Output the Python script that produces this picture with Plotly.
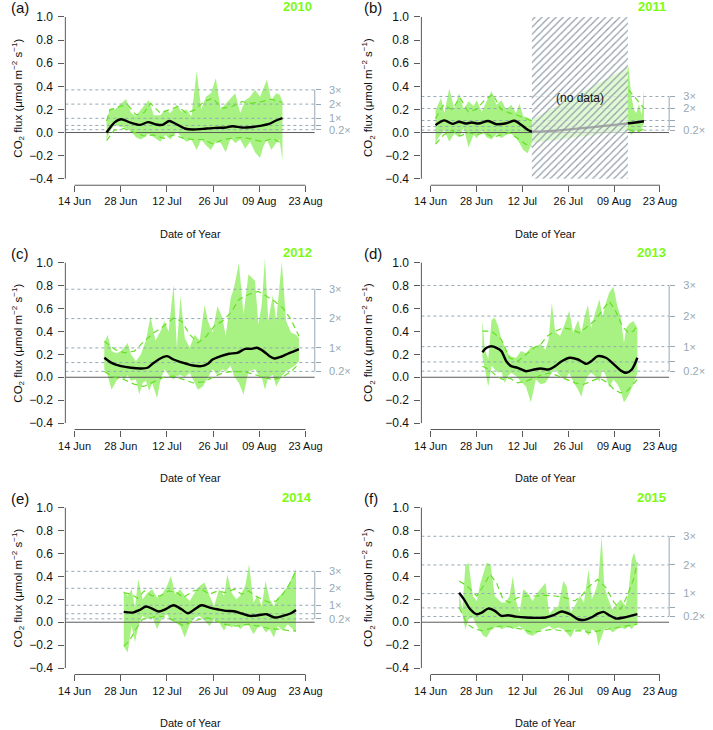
import plotly.graph_objects as go

# ---------------- axis labels ----------------
TICK_DAYS = [0, 14, 28, 42, 56, 70]          # days since 14 Jun
TICK_LABELS = ["14 Jun", "28 Jun", "12 Jul", "26 Jul", "09 Aug", "23 Aug"]
Y_TICKS = [-0.4, -0.2, 0.0, 0.2, 0.4, 0.6, 0.8, 1.0]
Y_TICK_LABELS = ["\u22120.4", "\u22120.2", "0.0", "0.2", "0.4", "0.6", "0.8", "1.0"]
MULTS = [0.2, 0.5, 1, 2, 3]
MULT_LABELS = ["0.2\u00d7", "", "1\u00d7", "2\u00d7", "3\u00d7"]
MULT_LABELS_2011 = ["0.2\u00d7", "", "", "2\u00d7", "3\u00d7"]
YEARS = ["2010", "2011", "2012", "2013", "2014", "2015"]
LETTERS = ["(a)", "(b)", "(c)", "(d)", "(e)", "(f)"]
BASES = [0.123, 0.104, 0.256, 0.267, 0.148, 0.25]
NODATA_START, NODATA_END = 30.9, 60.2   # 2011 gap (days since 14 Jun)

# ---------------- 2010 ----------------
a_day = [9.7, 10.7, 12.2, 13.6, 15.6, 17.1, 18.6, 20.1, 22.5, 24.0, 26.0, 27.5, 29.0, 31.0, 32.4, 33.9, 35.4, 37.0, 38.4,
         39.8, 41.3, 42.8, 44.3, 45.8, 47.3, 48.7, 50.2, 51.7, 53.2, 54.7, 56.2, 57.2, 58.3, 59.6, 61.1, 62.1, 63.0]
a_hi = [0.10, 0.21, 0.20, 0.24, 0.29, 0.17, 0.14, 0.20, 0.28, 0.15, 0.15, 0.20, 0.17, 0.24, 0.18, 0.20, 0.14, 0.53, 0.20,
        0.31, 0.34, 0.47, 0.20, 0.25, 0.30, 0.34, 0.17, 0.28, 0.31, 0.37, 0.31, 0.38, 0.46, 0.28, 0.34, 0.33, 0.27]
a_lo = [-0.06, 0.01, 0.07, 0.05, 0.04, 0.01, -0.04, -0.06, -0.01, -0.04, -0.08, -0.02, -0.06, 0.01, -0.04, -0.08, -0.06,
        -0.15, -0.06, -0.11, -0.15, -0.08, -0.09, -0.17, -0.05, -0.09, -0.06, -0.14, -0.08, -0.17, -0.22, -0.12, -0.06,
        -0.15, -0.09, -0.06, -0.24]
a_mean_day = [9.7, 12.2, 14.1, 17.0, 19.9, 22.2, 24.7, 26.6, 28.7, 30.5, 33.4, 35.9, 38.9, 42.8, 45.8, 47.8, 50.8, 53.2,
              56.2, 58.7, 61.1, 63.0]
a_mean = [0.0, 0.09, 0.115, 0.085, 0.066, 0.09, 0.07, 0.066, 0.10, 0.078, 0.035, 0.026, 0.032, 0.04, 0.043, 0.055, 0.043,
          0.046, 0.058, 0.072, 0.104, 0.124]
a_dhi_day = [9.7, 10.7, 13.6, 16.1, 18.6, 21.1, 23.0, 26.0, 28.5, 31.4, 33.9, 36.4, 39.3, 41.8, 44.8, 47.8, 50.7, 53.7,
             56.7, 59.6, 63.0]
a_dhi = [0.10, 0.196, 0.225, 0.239, 0.153, 0.173, 0.253, 0.167, 0.196, 0.225, 0.167, 0.196, 0.268, 0.297, 0.21, 0.225,
         0.268, 0.253, 0.268, 0.288, 0.26]
a_dlo_day = [9.7, 12, 15, 18.5, 21, 24, 27, 30, 33, 36, 39, 42, 45, 48, 51, 54, 57, 60, 63]
a_dlo = [-0.07, 0.02, 0.035, 0.0, -0.03, -0.02, -0.05, -0.02, -0.05, -0.06, -0.06, -0.1, -0.06, -0.05, -0.04, -0.06,
         -0.08, -0.05, -0.1]

# ---------------- 2011 ----------------
b_day = [1.5, 2.2, 3.2, 4.2, 5.7, 7.2, 8.7, 10.1, 11.6, 13.1, 14.1, 15.6, 17.1, 18.6, 20.1, 21.6, 23.1, 24.6, 26.1, 27.1,
         28.3, 29.6, 30.9, 60.4, 61.2, 62.0, 62.8, 63.6, 64.4, 65.1]
b_hi = [0.19, 0.24, 0.30, 0.17, 0.38, 0.21, 0.34, 0.20, 0.27, 0.23, 0.28, 0.18, 0.27, 0.36, 0.24, 0.28, 0.20, 0.24, 0.17,
        0.25, 0.14, 0.13, 0.11, 0.57, 0.33, 0.20, 0.17, 0.25, 0.15, 0.37]
b_lo = [-0.10, -0.05, -0.02, 0.02, -0.08, -0.01, -0.04, 0.04, -0.13, -0.02, -0.05, 0.02, -0.04, -0.06, -0.01, -0.05,
        -0.02, -0.01, -0.05, -0.09, -0.15, -0.18, -0.09, 0.02, -0.02, 0.0, 0.02, 0.01, 0.03, 0.08]
b_mean_day = [1.5, 4.2, 6.7, 8.7, 10.7, 12.6, 14.6, 17.6, 20.1, 23.1, 25.6, 27.6, 29.6, 30.9, 60.4, 65.1]
b_mean = [0.064, 0.105, 0.075, 0.094, 0.078, 0.087, 0.078, 0.10, 0.072, 0.08, 0.102, 0.068, 0.025, 0.009, 0.08, 0.098]
b_dhi_day = [1.5, 4, 6.5, 9, 11.5, 14, 16.5, 19, 21.5, 24, 26.5, 29, 30.9, None, 60.4, 62.5, 65.1]
b_dhi = [0.12, 0.24, 0.2, 0.3, 0.18, 0.2, 0.28, 0.33, 0.2, 0.17, 0.15, 0.12, 0.1, None, 0.37, 0.3, 0.21]
b_dlo_day = [1.5, 4, 6.5, 9, 11.5, 14, 16.5, 19, 21.5, 24, 26.5, 29, 30.9, None, 60.4, 62.5, 65.1]
b_dlo = [-0.1, -0.02, 0.02, -0.03, 0.0, -0.02, 0.0, -0.04, -0.02, 0.0, -0.05, -0.1, -0.12, None, 0.03, 0.0, 0.03]

# ---------------- 2012 ----------------
c_hi_day = [9.0, 10.0, 11.2, 12.7, 14.1, 15.1, 16.1, 17.1, 18.6, 20.1, 21.6, 23.0, 24.5, 26.0, 27.2, 28.5, 30.0, 31.0,
            32.1, 33.4, 34.9, 36.4, 37.9, 39.4, 40.4, 41.8, 43.3, 44.8, 45.8, 47.3, 48.3, 49.8, 51.2, 52.7, 54.7, 55.7,
            56.7, 57.7, 58.7, 60.1, 61.1, 62.8, 64.1, 65.6, 67.1, 68.0]
c_hi = [0.30, 0.37, 0.23, 0.21, 0.23, 0.27, 0.30, 0.20, 0.14, 0.20, 0.32, 0.53, 0.32, 0.40, 0.49, 0.40, 0.81, 0.26, 0.71,
        0.34, 0.26, 0.37, 0.32, 0.63, 0.49, 0.39, 0.62, 0.52, 0.36, 0.69, 0.78, 1.00, 0.55, 0.90, 0.84, 0.46, 0.63, 1.04,
        0.49, 0.72, 0.49, 1.01, 0.49, 0.39, 0.37, 0.34]
c_lo_day = [9.0, 10.0, 11.2, 12.7, 14.1, 15.1, 16.1, 17.1, 18.6, 19.6, 20.6, 21.6, 22.6, 23.5, 25.0, 26.0, 27.2, 28.5,
            30.0, 31.0, 32.1, 33.4, 34.9, 36.4, 37.4, 38.9, 40.4, 41.8, 43.3, 44.8, 45.8, 47.3, 48.3, 49.8, 51.2, 52.7,
            54.7, 55.7, 56.7, 57.7, 58.7, 60.1, 61.1, 62.8, 64.1, 65.6, 67.1, 68.0]
c_lo = [0.07, 0.02, -0.11, -0.03, 0.01, -0.02, 0.02, -0.03, -0.02, -0.15, -0.05, -0.03, -0.12, -0.05, -0.18, -0.03, 0.07,
        0.02, -0.02, 0.01, 0.02, 0.0, 0.04, -0.05, -0.11, -0.08, 0.0, 0.07, 0.02, 0.07, 0.05, 0.10, 0.01, -0.05, -0.15,
        0.05, 0.07, 0.02, 0.0, -0.11, 0.0, 0.02, -0.08, 0.01, 0.05, 0.08, 0.11, 0.14]
c_mean_day = [9.0, 11.2, 14.1, 17.1, 20.1, 22.1, 24.0, 26.0, 28.0, 30.0, 31.9, 33.9, 35.9, 38.4, 40.4, 41.8, 44.3, 46.8,
              49.3, 51.7, 53.7, 55.2, 57.2, 59.1, 60.6, 62.6, 64.6, 66.6, 68.0]
c_mean = [0.17, 0.126, 0.097, 0.083, 0.077, 0.083, 0.126, 0.164, 0.184, 0.155, 0.135, 0.118, 0.103, 0.097, 0.118, 0.155,
          0.184, 0.205, 0.213, 0.248, 0.248, 0.257, 0.228, 0.184, 0.164, 0.179, 0.205, 0.228, 0.245]
c_dhi_day = [9.0, 12.2, 15.1, 18.1, 21.1, 24.0, 27.0, 30.0, 32.4, 34.9, 37.4, 39.9, 42.3, 44.8, 47.3, 49.8, 52.7, 55.7,
             58.2, 60.6, 63.1, 65.6, 68.0]
c_dhi = [0.315, 0.242, 0.213, 0.228, 0.315, 0.388, 0.446, 0.518, 0.49, 0.373, 0.30, 0.358, 0.446, 0.49, 0.562, 0.678,
         0.722, 0.75, 0.707, 0.663, 0.605, 0.504, 0.358]
c_dlo_day = [9, 12, 15, 18, 21, 24, 27, 30, 33, 36, 39, 42, 45, 48, 51, 54, 57, 60, 63, 66, 68]
c_dlo = [0.05, 0.0, -0.02, -0.06, -0.08, -0.04, 0.0, 0.01, -0.02, -0.05, -0.04, 0.0, 0.04, 0.05, 0.05, 0.03, 0.0, -0.02,
         0.0, 0.06, 0.12]

# ---------------- 2013 ----------------
d_day = [15.8, 16.6, 17.6, 18.6, 19.6, 20.6, 21.6, 22.6, 23.6, 24.6, 26.1, 27.6, 29.1, 30.6, 32.1, 33.6, 35.0, 36.0, 37.0,
         38.0, 39.5, 41.0, 42.3, 43.5, 45.0, 46.0, 47.0, 48.0, 49.0, 50.2, 51.5, 52.5, 53.5, 54.5, 55.8, 57.0, 58.0, 59.0,
         59.7, 60.7, 61.9, 63.1]
d_hi = [0.50, 0.24, 0.16, 0.50, 0.52, 0.45, 0.33, 0.27, 0.21, 0.18, 0.17, 0.23, 0.21, 0.26, 0.27, 0.29, 0.24, 0.33, 0.65,
        0.40, 0.36, 0.47, 0.58, 0.39, 0.50, 0.39, 0.53, 0.63, 0.43, 0.56, 0.68, 0.53, 0.65, 0.74, 0.79, 0.62, 0.53, 0.30,
        0.43, 0.47, 0.49, 0.43]
d_lo = [0.18, 0.07, -0.08, 0.10, 0.07, 0.04, 0.05, -0.05, 0.01, 0.04, 0.01, -0.04, -0.08, -0.22, -0.02, -0.06, -0.05,
        -0.01, 0.04, 0.07, 0.01, -0.02, 0.04, -0.04, -0.11, -0.17, -0.05, 0.01, 0.04, 0.01, -0.04, 0.07, 0.01, -0.09,
        -0.02, -0.06, -0.12, -0.22, -0.19, -0.14, -0.06, 0.04]
d_mean_day = [15.8, 17.1, 18.6, 20.1, 21.6, 23.1, 24.6, 26.6, 29.1, 31.6, 33.6, 36.0, 38.0, 40.0, 42.5, 45.0, 47.5, 49.0,
              51.0, 53.5, 56.0, 57.9, 59.7, 61.4, 63.1]
d_mean = [0.219, 0.257, 0.271, 0.257, 0.228, 0.14, 0.097, 0.082, 0.053, 0.068, 0.077, 0.068, 0.097, 0.14, 0.17, 0.155,
          0.117, 0.14, 0.184, 0.17, 0.111, 0.062, 0.039, 0.068, 0.17]
d_dhi_day = [15.8, 18.6, 21.6, 24.1, 26.6, 29.1, 31.6, 33.6, 35.5, 38.0, 40.5, 43.0, 45.5, 48.0, 50.5, 52.5, 54.5, 56.5,
             58.5, 60.4, 61.9, 63.1]
d_dhi = [0.402, 0.402, 0.329, 0.169, 0.14, 0.2, 0.257, 0.286, 0.358, 0.402, 0.431, 0.416, 0.387, 0.445, 0.503, 0.59,
         0.663, 0.576, 0.445, 0.387, 0.402, 0.46]
d_dlo_day = [15.8, 18.1, 20.1, 22.1, 24.1, 26.6, 29.1, 31.6, 34.1, 36.5, 39.0, 41.5, 44.0, 46.5, 49.0, 51.5, 54.0, 56.0,
             57.9, 59.9, 61.7, 63.1]
d_dlo = [0.096, 0.067, 0.009, -0.02, -0.006, -0.049, -0.035, -0.006, 0.023, 0.038, 0.009, -0.02, -0.049, -0.064, -0.035,
         -0.006, -0.049, -0.107, -0.136, -0.122, -0.064, -0.02]

# ---------------- 2014 ----------------
e_day = [14.9, 16.1, 17.3, 18.3, 19.3, 20.6, 22.1, 23.5, 25.0, 26.5, 28.0, 29.2, 30.5, 32.0, 33.4, 34.9, 36.4, 37.9,
         39.4, 40.9, 42.3, 43.8, 45.3, 46.3, 47.6, 49.0, 50.2, 51.7, 52.9, 54.2, 55.5, 56.7, 57.9, 59.1, 60.4, 61.6, 63.1,
         64.6, 66.1, 67.1]
e_hi = [0.273, 0.23, 0.288, 0.128, 0.375, 0.201, 0.258, 0.288, 0.215, 0.244, 0.317, 0.404, 0.244, 0.288, 0.23, 0.186,
        0.258, 0.317, 0.346, 0.23, 0.142, 0.288, 0.23, 0.418, 0.258, 0.201, 0.23, 0.317, 0.505, 0.172, 0.23, 0.142, 0.36,
        0.201, 0.142, 0.215, 0.258, 0.317, 0.404, 0.462]
e_lo = [-0.209, -0.264, -0.032, -0.177, -0.032, 0.055, 0.026, 0.055, -0.061, 0.04, 0.07, 0.012, -0.003, -0.032, -0.134,
        -0.017, 0.04, 0.055, 0.012, -0.032, 0.026, -0.003, -0.075, -0.017, -0.046, -0.017, -0.061, -0.017, -0.032,
        -0.104, -0.046, -0.032, -0.09, -0.061, -0.134, -0.032, -0.075, -0.017, -0.061, -0.09]
e_mean_day = [14.9, 17.6, 19.6, 21.6, 23.5, 25.5, 27.5, 30.0, 32.4, 34.4, 36.4, 38.4, 40.9, 43.3, 45.8, 48.3, 50.7, 53.2,
              55.7, 58.2, 60.6, 63.1, 65.6, 67.1]
e_mean = [0.09, 0.084, 0.105, 0.137, 0.119, 0.093, 0.113, 0.148, 0.113, 0.078, 0.113, 0.148, 0.128, 0.113, 0.099, 0.096,
          0.076, 0.055, 0.061, 0.07, 0.041, 0.055, 0.078, 0.107]
e_dhi_day = [14.9, 17.1, 19.1, 21.1, 23.5, 26.0, 28.5, 31.0, 33.0, 35.9, 38.4, 40.9, 43.3, 45.8, 48.3, 50.7, 52.7, 54.7,
             56.7, 59.1, 61.1, 63.1, 65.1, 67.1]
e_dhi = [0.258, 0.244, 0.21, 0.273, 0.23, 0.23, 0.273, 0.258, 0.215, 0.273, 0.288, 0.244, 0.273, 0.258, 0.288, 0.244,
         0.273, 0.23, 0.201, 0.172, 0.186, 0.244, 0.331, 0.447]
e_dlo_day = [14.9, 16.6, 18.6, 20.6, 23.0, 25.5, 28.0, 30.5, 33.0, 35.4, 37.9, 40.4, 42.8, 45.3, 47.8, 50.2, 52.7, 55.2,
             57.7, 60.1, 62.6, 65.1, 67.1]
e_dlo = [-0.209, -0.163, -0.061, 0.026, 0.04, 0.055, 0.04, 0.012, -0.032, 0.003, 0.026, 0.04, 0.012, -0.017, -0.032,
         -0.032, -0.017, -0.032, -0.046, -0.061, -0.061, -0.075, -0.075]

# ---------------- 2015 ----------------
f_day = [8.7, 9.7, 10.6, 11.6, 12.9, 14.1, 15.1, 16.1, 17.1, 18.3, 19.6, 20.6, 21.6, 22.9, 24.1, 25.1, 26.1, 27.1, 28.3,
         29.6, 31.1, 32.6, 34.0, 35.1, 36.2, 37.5, 39.0, 40.5, 41.5, 42.8, 44.0, 45.5, 46.8, 48.2, 49.2, 50.5, 51.2, 52.2,
         53.0, 54.2, 55.5, 56.8, 58.0, 59.5, 60.4, 61.4, 62.1, 63.1]
f_hi = [0.258, 0.113, 0.49, 0.52, 0.229, 0.186, 0.331, 0.432, 0.52, 0.505, 0.229, 0.2, 0.171, 0.171, 0.229, 0.403, 0.186,
        0.084, 0.287, 0.258, 0.186, 0.258, 0.302, 0.345, 0.07, 0.113, 0.142, 0.36, 0.316, 0.084, 0.142, 0.229, 0.171,
        0.462, 0.2, 0.287, 0.374, 0.752, 0.316, 0.2, 0.113, 0.157, 0.2, 0.142, 0.273, 0.549, 0.607, 0.49]
f_lo = [0.142, 0.07, -0.061, 0.026, 0.041, -0.032, -0.075, -0.119, -0.133, -0.075, -0.046, -0.032, -0.061, -0.046,
        -0.032, -0.061, -0.046, -0.032, -0.061, -0.104, -0.119, -0.09, -0.061, -0.046, -0.032, -0.061, -0.046, -0.061,
        -0.09, -0.133, -0.061, -0.075, -0.061, -0.119, -0.061, -0.09, -0.206, -0.119, -0.061, -0.046, -0.09, -0.061,
        -0.046, -0.061, -0.032, -0.061, -0.032, -0.017]
f_mean_day = [8.7, 10.2, 12.1, 14.1, 15.6, 17.6, 19.6, 21.6, 23.6, 26.1, 29.1, 32.1, 35.1, 37.5, 40.0, 42.5, 45.0, 47.0,
              49.0, 51.0, 52.8, 54.5, 56.5, 59.0, 61.0, 63.1]
f_mean = [0.258, 0.2, 0.113, 0.07, 0.084, 0.119, 0.099, 0.055, 0.061, 0.049, 0.041, 0.038, 0.041, 0.061, 0.093, 0.07,
          0.026, 0.02, 0.041, 0.075, 0.09, 0.061, 0.032, 0.041, 0.055, 0.07]
f_dhi_day = [8.7, 11.2, 14.1, 16.1, 18.1, 20.1, 22.1, 24.1, 26.6, 29.1, 32.1, 35.1, 38.0, 41.0, 44.0, 46.0, 48.5, 51.0,
             53.5, 56.0, 58.0, 60.0, 61.9, 63.1]
f_dhi = [0.36, 0.316, 0.229, 0.316, 0.418, 0.345, 0.2, 0.171, 0.215, 0.229, 0.229, 0.235, 0.229, 0.215, 0.186, 0.229,
         0.316, 0.374, 0.302, 0.171, 0.113, 0.229, 0.374, 0.52]
f_dlo_day = [8.7, 11.2, 13.6, 16.1, 19.1, 22.1, 25.1, 28.1, 31.1, 34.1, 37.0, 40.0, 43.0, 46.0, 48.5, 51.0, 54.0, 57.0,
             60.0, 63.1]
f_dlo = [0.128, -0.017, -0.061, -0.075, -0.046, -0.032, -0.046, -0.061, -0.09, -0.075, -0.061, -0.075, -0.075, -0.075,
         -0.09, -0.075, -0.061, -0.046, -0.032, -0.017]

PANELS = [
    dict(top_day=a_day, top=a_hi, bot_day=a_day, bot=a_lo, mean_day=a_mean_day, mean=a_mean,
         dhi_day=a_dhi_day, dhi=a_dhi, dlo_day=a_dlo_day, dlo=a_dlo, mlabels=MULT_LABELS),
    dict(top_day=b_day, top=b_hi, bot_day=b_day, bot=b_lo, mean_day=b_mean_day, mean=b_mean,
         dhi_day=b_dhi_day, dhi=b_dhi, dlo_day=b_dlo_day, dlo=b_dlo, mlabels=MULT_LABELS_2011),
    dict(top_day=c_hi_day, top=c_hi, bot_day=c_lo_day, bot=c_lo, mean_day=c_mean_day, mean=c_mean,
         dhi_day=c_dhi_day, dhi=c_dhi, dlo_day=c_dlo_day, dlo=c_dlo, mlabels=MULT_LABELS),
    dict(top_day=d_day, top=d_hi, bot_day=d_day, bot=d_lo, mean_day=d_mean_day, mean=d_mean,
         dhi_day=d_dhi_day, dhi=d_dhi, dlo_day=d_dlo_day, dlo=d_dlo, mlabels=MULT_LABELS),
    dict(top_day=e_day, top=e_hi, bot_day=e_day, bot=e_lo, mean_day=e_mean_day, mean=e_mean,
         dhi_day=e_dhi_day, dhi=e_dhi, dlo_day=e_dlo_day, dlo=e_dlo, mlabels=MULT_LABELS),
    dict(top_day=f_day, top=f_hi, bot_day=f_day, bot=f_lo, mean_day=f_mean_day, mean=f_mean,
         dhi_day=f_dhi_day, dhi=f_dhi, dlo_day=f_dlo_day, dlo=f_dlo, mlabels=MULT_LABELS),
]

# ---------------- styling / layout ----------------
W, H = 713, 730
FONT = "Liberation Sans, Arial, Helvetica, sans-serif"
FILL = "rgb(168,242,132)"
DASHG = "rgb(104,222,40)"
REF = "rgb(150,168,180)"
AXIS = "rgb(90,90,90)"
YEARC = "rgb(124,250,20)"
XR = [-2.8, 72.8]
YR = [-0.456, 1.056]
COLS = [(59.6, 314.4), (423.3, 676.4)]          # pixel extents of plot regions
ROWS = [(10.5, 185.5), (256.6, 430.1), (501.9, 675.4)]

fig = go.Figure()
layout = dict(width=W, height=H, margin=dict(l=0, r=0, t=0, b=0), paper_bgcolor="white",
              plot_bgcolor="rgba(0,0,0,0)", showlegend=False, font=dict(family=FONT, color="#111"))
shapes, annotations = [], []

for i, p in enumerate(PANELS):
    r, c = divmod(i, 2)
    s = "" if i == 0 else str(i + 1)
    xa, ya = "x" + s, "y" + s
    yr_name = "y" + str(i + 7)
    xl, xrpx = COLS[c]
    yt, yb = ROWS[r]
    base = BASES[i]
    levels = [base * m for m in MULTS]

    layout["xaxis" + s] = dict(domain=[xl / W, xrpx / W], range=XR, anchor=ya, tickmode="array",
                               tickvals=TICK_DAYS, ticktext=TICK_LABELS, ticks="outside", ticklen=6,
                               tickcolor=AXIS, showgrid=False, zeroline=False, showline=False,
                               tickfont=dict(size=11, color="#111"))
    layout["yaxis" + s] = dict(domain=[1 - yb / H, 1 - yt / H], range=YR, anchor=xa, tickmode="array",
                               tickvals=Y_TICKS, ticktext=Y_TICK_LABELS, ticks="outside", ticklen=6,
                               tickcolor=AXIS, showgrid=False, zeroline=False, showline=False,
                               tickfont=dict(size=12, color="#111"), ticklabelstandoff=3)
    layout["yaxis" + str(i + 7)] = dict(overlaying=ya, side="right", anchor=xa, range=YR, tickmode="array",
                                        tickvals=levels, ticktext=p["mlabels"], ticks="outside",
                                        ticklen=5, tickcolor=REF, showgrid=False, zeroline=False, showline=False,
                                        tickfont=dict(size=11, color=REF), ticklabelstandoff=6)

    # green envelope
    fx = list(p["top_day"]) + list(reversed(p["bot_day"]))
    fy = list(p["top"]) + list(reversed(p["bot"]))
    fig.add_trace(go.Scatter(x=fx, y=fy, fill="toself", fillcolor=FILL, mode="lines", line=dict(width=0),
                             xaxis=xa, yaxis=ya, hoverinfo="skip"))
    # reference levels
    for lv in levels:
        fig.add_trace(go.Scatter(x=XR, y=[lv, lv], mode="lines",
                                 line=dict(color=REF, width=1, dash="3px,3px"), xaxis=xa, yaxis=ya,
                                 hoverinfo="skip"))
    # invisible anchor so the right-hand multiplier axis is drawn
    fig.add_trace(go.Scatter(x=[XR[1]] * len(levels), y=levels, mode="markers",
                             marker=dict(size=1, opacity=0), xaxis=xa, yaxis=yr_name, hoverinfo="skip"))
    # zero line
    fig.add_trace(go.Scatter(x=XR, y=[0, 0], mode="lines", line=dict(color=AXIS, width=1),
                             xaxis=xa, yaxis=ya, hoverinfo="skip"))
    # dashed quantile lines
    fig.add_trace(go.Scatter(x=p["dhi_day"], y=p["dhi"], mode="lines",
                             line=dict(color=DASHG, width=1.2, dash="6px,4px"), xaxis=xa, yaxis=ya))
    fig.add_trace(go.Scatter(x=p["dlo_day"], y=p["dlo"], mode="lines",
                             line=dict(color=DASHG, width=1.2, dash="6px,4px"), xaxis=xa, yaxis=ya))
    # mean
    fig.add_trace(go.Scatter(x=p["mean_day"], y=p["mean"], mode="lines",
                             line=dict(color="black", width=2.4, shape="spline", smoothing=0.8),
                             xaxis=xa, yaxis=ya))

    # axis lines (R style, only between first and last ticks)
    shapes.append(dict(type="line", xref=xa + " domain", x0=0, x1=0, yref=ya, y0=Y_TICKS[0], y1=Y_TICKS[-1],
                       line=dict(color=AXIS, width=1)))
    shapes.append(dict(type="line", xref=xa, x0=TICK_DAYS[0], x1=TICK_DAYS[-1], yref=ya + " domain", y0=0, y1=0,
                       line=dict(color=AXIS, width=1)))
    shapes.append(dict(type="line", xref=xa + " domain", x0=1, x1=1, yref=ya, y0=levels[0],
                       y1=levels[-1], line=dict(color=REF, width=1)))

    # labels
    annotations.append(dict(text=LETTERS[i], xref="paper", yref="paper", x=(2 + 361 * c) / W,
                            y=1 - (yt - 2.5) / H, xanchor="left", yanchor="middle", showarrow=False,
                            font=dict(size=15, color="#111")))
    annotations.append(dict(text="<b>" + YEARS[i] + "</b>", xref="paper", yref="paper", x=(xrpx - 1) / W,
                            y=1 - (yt - 3.5) / H, xanchor="right", yanchor="middle", showarrow=False,
                            font=dict(size=13, color=YEARC)))
    annotations.append(dict(text="CO<sub>2</sub> flux (\u03bcmol m<sup>\u22122</sup> s<sup>\u22121</sup>)",
                            xref="paper", yref=ya, x=(11 + 358 * c) / W, y=0.3, textangle=-90,
                            xanchor="center", yanchor="middle", showarrow=False, font=dict(size=11.5, color="#111")))
    annotations.append(dict(text="Date of Year", xref=xa, yref="paper", x=35, y=1 - (yb + 48.5) / H,
                            xanchor="center", yanchor="middle", showarrow=False, font=dict(size=11, color="#111")))

# 2011 no-data hatched region
fig.add_trace(go.Scatter(x=[NODATA_START, NODATA_END, NODATA_END, NODATA_START, NODATA_START],
                         y=[Y_TICKS[0], Y_TICKS[0], Y_TICKS[-1], Y_TICKS[-1], Y_TICKS[0]],
                         fill="toself", mode="lines", line=dict(width=0), xaxis="x2", yaxis="y2",
                         fillcolor="rgba(255,255,255,0.65)",
                         fillpattern=dict(shape="/", size=5, solidity=0.22, fgcolor="rgb(140,153,163)",
                                          bgcolor="rgba(255,255,255,0.65)", fillmode="replace"),
                         hoverinfo="skip"))
annotations.append(dict(text="(no data)", xref="x2", yref="y2", x=(NODATA_START + NODATA_END) / 2, y=0.3,
                        showarrow=False, font=dict(size=12, color="#111")))

layout["shapes"] = shapes
layout["annotations"] = annotations
fig.update_layout(**layout)
fig.write_html("out.html", config={"displayModeBar": False},
               post_script="document.body.style.margin='0';document.body.style.padding='0';")
